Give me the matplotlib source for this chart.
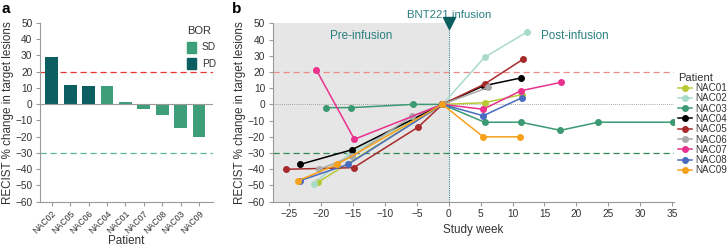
import matplotlib
matplotlib.use("Agg")
import matplotlib.pyplot as plt
from matplotlib.patches import Patch

plt.rcParams['font.family'] = ['Liberation Sans', 'DejaVu Sans']
plt.rcParams['axes.unicode_minus'] = True

# ---------------- Data: panel a ----------------
bar_patients = ["NAC02", "NAC05", "NAC06", "NAC04", "NAC01", "NAC07", "NAC08", "NAC03", "NAC09"]
bar_values = [29, 12, 11, 11, 1, -3, -7, -15, -20]
bar_bor = ["PD", "PD", "PD", "SD", "SD", "SD", "SD", "SD", "SD"]

# ---------------- Data: panel b ----------------
patients = ["NAC01", "NAC02", "NAC03", "NAC04", "NAC05", "NAC06", "NAC07", "NAC08", "NAC09"]
weeks = {
    "NAC01": [-20.5, -1, 5.6, 11.4],
    "NAC02": [-21.2, -15.7, -1, 5.6, 12.2],
    "NAC03": [-19.3, -15.3, -5.6, -1, 5.6, 11.3, 17.5, 23.4, 35.1],
    "NAC04": [-23.3, -15.2, -1, 5.5, 11.3],
    "NAC05": [-25.5, -14.9, -4.8, -1, 5.6, 11.7],
    "NAC06": [-20.3, -15.1, -5.7, -1, 6.2],
    "NAC07": [-20.8, -14.8, -1, 5.4, 11.3, 17.6],
    "NAC08": [-23.3, -15.8, -1, 5.4, 11.4],
    "NAC09": [-23.6, -17.5, -1, 5.4, 11.2],
}
changes = {
    "NAC01": [-48, 0, 1, 6],
    "NAC02": [-49, -31, 0, 29, 44.5],
    "NAC03": [-2, -2, 0, 0, -11, -11, -16, -11, -11],
    "NAC04": [-37, -28, 0, 11.5, 16.3],
    "NAC05": [-40, -39, -14, 0, 12.5, 28],
    "NAC06": [-40, -32, -7, 0, 10.5],
    "NAC07": [21.5, -21.5, 0, -3, 8.4, 13.6],
    "NAC08": [-47, -37, 0, -7, 4],
    "NAC09": [-47, -37, 0, -20, -20],
}

colors = {
    "NAC01": "#b9c935", "NAC02": "#a9dbc9", "NAC03": "#3b9a73",
    "NAC04": "#000000", "NAC05": "#a82b2b", "NAC06": "#a9a9a9",
    "NAC07": "#e9318e", "NAC08": "#4a6cc0", "NAC09": "#f6a11b",
}
bor_colors = {"SD": "#3e9e7a", "PD": "#0c5e60"}
teal = "#2a7f80"
spine_c = "#9a9a9a"
txt_c = "#333333"
yticks = list(range(-60, 51, 10))

fig = plt.figure(figsize=(7.28, 2.49), dpi=100)

def style_axes(ax):
    for s in ["top", "right"]:
        ax.spines[s].set_visible(False)
    for s in ["left", "bottom"]:
        ax.spines[s].set_color(spine_c)
        ax.spines[s].set_linewidth(0.8)
    ax.tick_params(colors=spine_c, labelcolor=txt_c, labelsize=7.3, width=0.8, length=3, pad=2.5)

# ---------------- Panel a ----------------
axa = fig.add_axes([40/728, 1-201.7/249, 173/728, 179/249])
xs = list(range(len(bar_patients)))
axa.bar(xs, bar_values, width=0.7, color=[bor_colors[b] for b in bar_bor], zorder=2)
axa.axhline(0, color=spine_c, lw=0.8, zorder=3)
axa.axhline(20, color="#e8352f", lw=0.9, ls=(0, (5, 3)), zorder=1)
axa.axhline(-30, color="#5cb88e", lw=0.9, ls=(0, (5, 3)), zorder=1)
axa.set_xlim(-0.64, 8.76)
axa.set_ylim(-60, 50)
axa.set_yticks(yticks)
axa.set_xticks(xs)
axa.set_xticklabels(bar_patients, rotation=45, ha="right", rotation_mode="anchor")
style_axes(axa)
axa.tick_params(axis="x", labelsize=6.3, pad=2)
axa.set_xlabel("Patient", fontsize=8.4, color=txt_c, va="center")
axa.xaxis.set_label_coords(0.5, (201.7 - 241) / 179)
axa.set_ylabel("RECIST % change in target lesions", fontsize=8.4, color=txt_c, labelpad=1)
leg_a = axa.legend(handles=[Patch(color=bor_colors["SD"], label="SD"), Patch(color=bor_colors["PD"], label="PD")],
                   title="BOR", loc="upper right", bbox_to_anchor=(1.07, 1.03), frameon=False,
                   fontsize=7.3, title_fontsize=8, handlelength=0.9, handleheight=1.3,
                   handletextpad=0.6, labelspacing=0.5)
leg_a._legend_box.align = "left"
for t in leg_a.get_texts():
    t.set_color(txt_c)
leg_a.get_title().set_color(txt_c)

# ---------------- Panel b ----------------
axb = fig.add_axes([272.7/728, 1-201.7/249, 401.3/728, 178.4/249])
xmin, xmax = -27.6, 35.3
axb.axvspan(xmin, 0, color="#e6e6e6", zorder=0, lw=0)
axb.axhline(0, color="#888888", lw=0.6, ls=(0, (1, 1.5)), zorder=1)
axb.axhline(20, color="#f28a8a", lw=0.9, ls=(0, (5, 3)), zorder=1)
axb.axhline(-30, color="#2e8b57", lw=0.9, ls=(0, (5, 3)), zorder=1)
axb.axvline(0, color=teal, lw=0.8, ls=(0, (1, 1)), zorder=1)
axb.plot([0], [50], marker="v", color="#0c5e60", markersize=8, clip_on=False, zorder=5)
for p in patients:
    axb.plot(weeks[p], changes[p], color=colors[p], lw=1.1, marker="o", markersize=4, label=p, zorder=3)
axb.set_xlim(xmin, xmax)
axb.set_ylim(-60, 50)
axb.set_yticks(yticks)
axb.set_xticks(list(range(-25, 36, 5)))
style_axes(axb)
axb.set_xlabel("Study week", fontsize=8.4, color=txt_c, labelpad=3)
axb.set_ylabel("RECIST % change in target lesions", fontsize=8.4, color=txt_c, labelpad=1)
axb.text(-13.8, 42.4, "Pre-infusion", color=teal, fontsize=8.4, ha="center", va="center")
axb.text(19.8, 42.4, "Post-infusion", color=teal, fontsize=8.4, ha="center", va="center")
axb.text(0, 51.8, "BNT221 infusion", color=teal, fontsize=8.2, ha="center", va="bottom")
leg_b = axb.legend(loc="upper left", bbox_to_anchor=(1.0, 0.745), frameon=False, title="Patient",
                   fontsize=7.1, title_fontsize=8, handlelength=1.4, handletextpad=0.4,
                   labelspacing=0.03, borderpad=0.2, borderaxespad=0.2)
leg_b._legend_box.align = "left"
for t in leg_b.get_texts():
    t.set_color(txt_c)
leg_b.get_title().set_color(txt_c)

fig.text(2/728, 1-2/249, "a", fontsize=11, fontweight="bold", va="top", ha="left")
fig.text(232/728, 1-2/249, "b", fontsize=11, fontweight="bold", va="top", ha="left")

fig.savefig("out.png", dpi=100)
